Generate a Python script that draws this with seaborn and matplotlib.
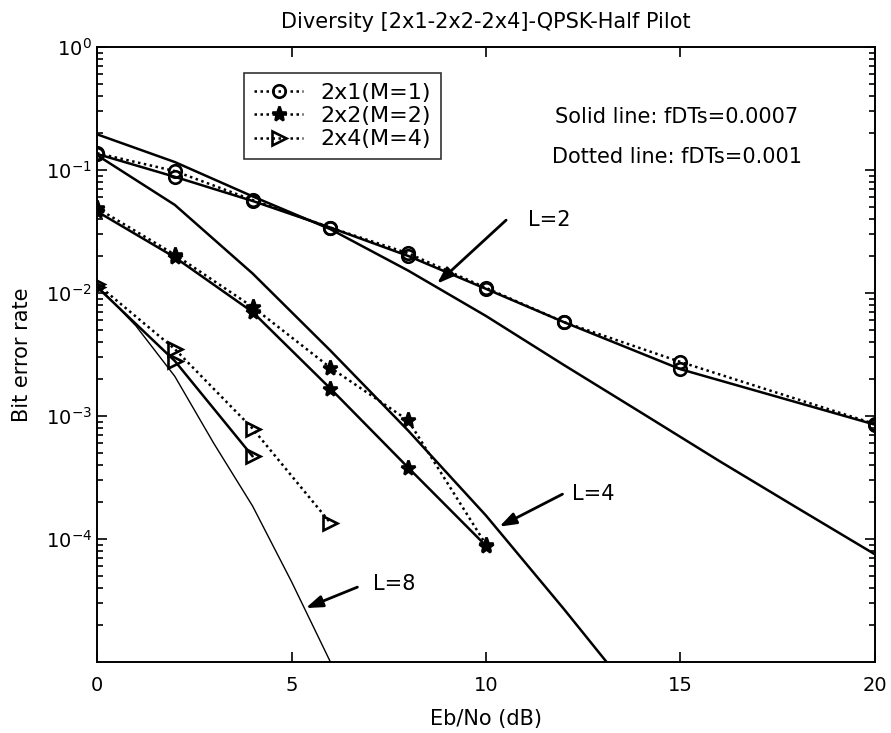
import matplotlib
matplotlib.use("Agg")
import matplotlib.pyplot as plt
import matplotlib.ticker as mticker
import seaborn as sns

# Eb/No (dB) points and BER
ebno_2x1 = [0, 2, 4, 6, 8, 10, 12, 15, 20]
ber_2x1_solid = [0.135, 0.088, 0.056, 0.034, 0.020, 0.0108, 0.0058, 0.0024, 0.00085]
ber_2x1_dotted = [0.137, 0.098, 0.057, 0.034, 0.021, 0.0110, 0.0058, 0.00275, 0.00086]

ebno_2x2 = [0, 2, 4, 6, 8, 10]
ber_2x2_solid = [0.046, 0.0195, 0.0070, 0.00167, 0.00038, 8.8e-5]
ber_2x2_dotted = [0.049, 0.0205, 0.0077, 0.00247, 0.00092, 9.0e-5]

ebno_2x4_solid = [0, 2, 4]
ber_2x4_solid = [0.0112, 0.0028, 0.00047]
ebno_2x4_dotted = [0, 2, 4, 6]
ber_2x4_dotted = [0.0118, 0.0035, 0.00079, 0.000135]

# theoretical diversity curves
ebno_l2 = [0, 2, 4, 6, 8, 10, 12, 14, 16, 18, 20]
ber_l2 = [0.195, 0.116, 0.061, 0.033, 0.0152, 0.0065, 0.0026, 0.00106, 4.3e-4, 1.79e-4, 7.5e-5]
ebno_l4 = [0, 2, 4, 6, 8, 10, 12, 13.1]
ber_l4 = [0.132, 0.052, 0.0144, 0.0034, 7.6e-4, 1.55e-4, 2.7e-5, 1.0e-5]
ebno_l8 = [0, 1, 2, 3, 4, 5, 6]
ber_l8 = [0.0115, 0.0054, 0.0021, 6.0e-4, 1.85e-4, 4.5e-5, 1.0e-5]

legend_labels = ["2x1(M=1)", "2x2(M=2)", "2x4(M=4)"]

# annotation arrows: (text, text pos, arrow tail, arrow tip)
arrow_notes = [
    ("L=2", (11.08, 0.039), (10.57, 0.0405), (8.69, 0.0115)),
    ("L=4", (12.21, 2.33e-4), (12.03, 2.37e-4), (10.28, 1.23e-4)),
    ("L=8", (7.1, 4.3e-5), (6.76, 4.14e-5), (5.30, 2.69e-5)),
]

sns.set_style("ticks")
plt.rcParams["font.family"] = ["DejaVu Sans", "Noto Sans CJK JP"]
plt.rcParams["xtick.direction"] = "in"
plt.rcParams["ytick.direction"] = "in"
for key in ["text.color", "axes.labelcolor", "xtick.color", "ytick.color", "axes.edgecolor"]:
    plt.rcParams[key] = "black"

fig, ax = plt.subplots(figsize=(8.91, 7.33), dpi=100)
fig.subplots_adjust(left=0.1089, right=0.982, bottom=0.0969, top=0.9359)

dotted = (0, (1, 1.4))
lw = 1.8

def draw(x, y, ls, marker=None, label=None, ms=9, fill="none", width=lw):
    kw = dict(x=x, y=y, ax=ax, color="black", linestyle=ls, linewidth=width,
              sort=False, estimator=None)
    if marker is not None:
        kw.update(marker=marker, markersize=ms, markerfacecolor=fill,
                  markeredgecolor="black", markeredgewidth=1.9)
    if label is not None:
        kw["label"] = label
    sns.lineplot(**kw)

draw(ebno_2x1, ber_2x1_solid, "-", "o")
draw(ebno_2x1, ber_2x1_dotted, dotted, "o", legend_labels[0])
draw(ebno_2x2, ber_2x2_solid, "-", "*", ms=11, fill="black")
draw(ebno_2x2, ber_2x2_dotted, dotted, "*", legend_labels[1], ms=11, fill="black")
draw(ebno_2x4_solid, ber_2x4_solid, "-", ">", ms=10)
draw(ebno_2x4_dotted, ber_2x4_dotted, dotted, ">", legend_labels[2], ms=10)

draw(ebno_l2, ber_l2, "-")
draw(ebno_l4, ber_l4, "-")
draw(ebno_l8, ber_l8, "-", width=1.0)

ax.set_yscale("log")
ax.set_xlim(0, 20)
ax.set_ylim(1e-5, 1)
ax.set_xticks([0, 5, 10, 15, 20])
ax.set_yticks([1e-4, 1e-3, 1e-2, 1e-1, 1])
ax.set_yticklabels([r"$10^{-4}$", r"$10^{-3}$", r"$10^{-2}$", r"$10^{-1}$", r"$10^{0}$"])
ax.yaxis.set_minor_locator(mticker.LogLocator(base=10, subs=range(2, 10), numticks=20))
ax.yaxis.set_minor_formatter(mticker.NullFormatter())
ax.tick_params(which="both", top=True, right=True, labelsize=14, width=1.2, colors="black")
ax.tick_params(which="major", length=7)
ax.tick_params(which="minor", length=4)
ax.tick_params(axis="x", pad=10)
for sp in ax.spines.values():
    sp.set_visible(True)
    sp.set_linewidth(1.4)
    sp.set_color("black")

ax.set_title("Diversity [2x1-2x2-2x4]-QPSK-Half Pilot", fontsize=15, pad=14)
ax.set_xlabel("Eb/No (dB)", fontsize=15, labelpad=10)
ax.set_ylabel("Bit error rate", fontsize=15, labelpad=10)

ax.text(14.91, 0.269, "Solid line: fDTs=0.0007", fontsize=15, ha="center", va="center")
ax.text(14.91, 0.127, "Dotted line: fDTs=0.001", fontsize=15, ha="center", va="center")

for txt, tpos, tail, tip in arrow_notes:
    ax.annotate("", xy=tip, xytext=tail,
                arrowprops=dict(arrowstyle="-|>,head_length=1.0,head_width=0.35",
                                color="black", lw=2))
    ax.text(tpos[0], tpos[1], txt, fontsize=15, ha="left", va="center")

handles, labels = ax.get_legend_handles_labels()
leg = ax.legend(handles, labels, loc="upper left", bbox_to_anchor=(0.189, 0.958),
                fontsize=16, frameon=True, fancybox=False, edgecolor="black",
                handlelength=2.2, borderpad=0.45, labelspacing=0.15, handletextpad=0.8,
                borderaxespad=0)
leg.get_frame().set_linewidth(1.2)

fig.savefig("out.png", dpi=100, facecolor="white")
